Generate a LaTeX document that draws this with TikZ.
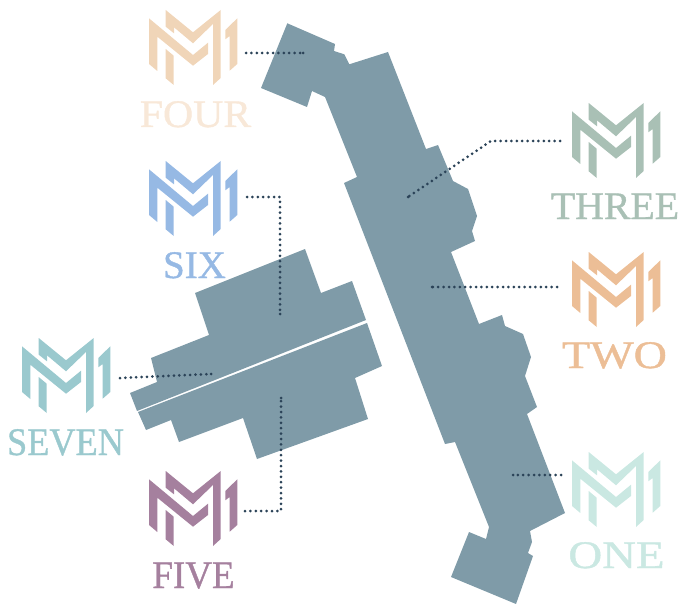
\documentclass[tikz,border=0pt]{standalone}
\usepackage{fontspec}
\setmainfont{Liberation Serif}
\newfontfamily\capfont[FakeBold=1]{Liberation Serif}
\usepackage{xcolor}
\definecolor{wingc}{HTML}{7F9BA8}
\definecolor{dotc}{HTML}{2B4358}
\definecolor{fourc}{HTML}{F0D5B8}
\definecolor{fourt}{HTML}{F8E8D8}
\definecolor{sixc}{HTML}{96B9E4}
\definecolor{sevenc}{HTML}{9AC9CE}
\definecolor{fivec}{HTML}{A5809E}
\definecolor{threec}{HTML}{A9C0B5}
\definecolor{twoc}{HTML}{ECBE96}
\definecolor{onec}{HTML}{CAE8E2}
\newcommand{\capword}[2]{\scalebox{#1}[1]{#2}}
\tikzset{
  wing/.style   ={fill=wingc},
  ldot/.style   ={dotc, line width=3pt, line cap=round,
                  dash pattern=on 0pt off 5.4pt},
  lbl/.style    ={anchor=base, inner sep=0pt, font=\fontsize{39}{39}\capfont},
  logomark/.pic={
    \fill[pic actions] (0,8.3) -- (44,45) -- (59,32.7) -- (59,44) -- (44,55.7)
      -- (8.3,26.7) -- (8.3,61) -- (0,54) -- cycle;
    \fill[pic actions] (16.7,0) -- (44,22.3) -- (71.7,0) -- (71.7,68) -- (64,75)
      -- (64,14) -- (44,33.3) -- (25,17.3) -- (25,23.3) -- (16.7,16.7) -- cycle;
    \fill[pic actions] (16.7,39) -- (24.7,45.7) -- (24.7,75) -- (16.7,68.3) -- cycle;
    \fill[pic actions] (88.3,8.3) -- (88.3,54) -- (80.7,60.7) -- (80.7,26)
      -- (76.3,29.3) -- (76.3,20) -- cycle;
  },
}
\begin{document}
\begin{tikzpicture}[x=1pt, y=-1pt]
  \useasboundingbox (0,0) rectangle (682,604);
  % long wing
  \fill[wing] (287.3,23.3) -- (335,44) -- (334,51) -- (344.3,54.3) -- (349.3,64.3)
    -- (388,52) -- (426,149) -- (438,145) -- (453,181) -- (468,189) -- (477,216)
    -- (472,231) -- (475,241) -- (451,252) -- (479,324) -- (502,315) -- (505,326)
    -- (523,334) -- (531,357) -- (525,376) -- (537,407) -- (527,414) -- (565,513)
    -- (530,531) -- (532,542) -- (528,553) -- (533,556) -- (516,604) -- (451,577)
    -- (469,532) -- (486,539) -- (489,527) -- (455,442) -- (445,444) -- (344,183)
    -- (357,177) -- (325,97) -- (312,91) -- (307,107) -- (261,88) -- cycle;
  % short wing
  \fill[wing] (130,393) -- (137,411) -- (366,320) -- (352,281) -- (321,293)
    -- (305,249) -- (195,293) -- (209,335) -- (151,358) -- (157,382) -- cycle;
  \fill[wing] (138,412) -- (146,430) -- (171,420) -- (179,442) -- (243,418)
    -- (257,459) -- (368,419) -- (355,378) -- (382,366) -- (367,323) -- cycle;

  \pic[fill=fourc]   at (149,10)  {logomark};
  \pic[fill=sixc]    at (149,161) {logomark};
  \pic[fill=sevenc]  at (22,338)  {logomark};
  \pic[fill=fivec]   at (149,471) {logomark};
  \pic[fill=threec]  at (572,103) {logomark};
  \pic[fill=twoc]    at (572,252) {logomark};
  \pic[fill=onec]    at (572,452) {logomark};

  \node[lbl, text=fourt]  (four)  at (195.5,127) {\capword{1.07}{FOUR}};
  \node[lbl, text=sixc]   (six)   at (194.5,278) {\capword{1}{SIX}};
  \node[lbl, text=sevenc] (seven) at (65.5,455)  {\capword{0.93}{SEVEN}};
  \node[lbl, text=fivec]  (five)  at (193.5,588) {\capword{0.95}{FIVE}};
  \node[lbl, text=threec] (three) at (615,219)   {\capword{1.02}{THREE}};
  \node[lbl, text=twoc]   (two)   at (614.5,368) {\capword{1.18}{TWO}};
  \node[lbl, text=onec]   (one)   at (616.5,568) {\capword{1.2}{ONE}};

  \coordinate (fourA) at (246,53);
  \coordinate (fourB) at (303,53);
  \coordinate (sixA) at (247,197);
  \coordinate (sixK) at (280,197);
  \coordinate (sixB) at (280,314);
  \coordinate (sevenA) at (120,378);
  \coordinate (sevenB) at (211,374);
  \coordinate (fiveA) at (245,511);
  \coordinate (fiveK) at (281,511);
  \coordinate (fiveB) at (281,398);
  \coordinate (threeA) at (560,141);
  \coordinate (threeK) at (491,141);
  \coordinate (threeB) at (408,197);
  \coordinate (twoA) at (557,287);
  \coordinate (twoB) at (432,287);
  \coordinate (oneA) at (561,475);
  \coordinate (oneB) at (513,475);
  \draw[ldot] (fourA) -- (fourB);
  \draw[ldot] (sixA) -- (sixK) -- (sixB);
  \draw[ldot] (sevenA) -- (sevenB);
  \draw[ldot] (fiveA) -- (fiveK) -- (fiveB);
  \draw[ldot] (threeA) -- (threeK) -- (threeB);
  \draw[ldot] (twoA) -- (twoB);
  \draw[ldot] (oneA) -- (oneB);
  \foreach \tip in {fourB,sixB,sevenB,fiveB,threeB,twoB,oneB}
    \fill[dotc] (\tip) circle (1.5);
\end{tikzpicture}
\end{document}
